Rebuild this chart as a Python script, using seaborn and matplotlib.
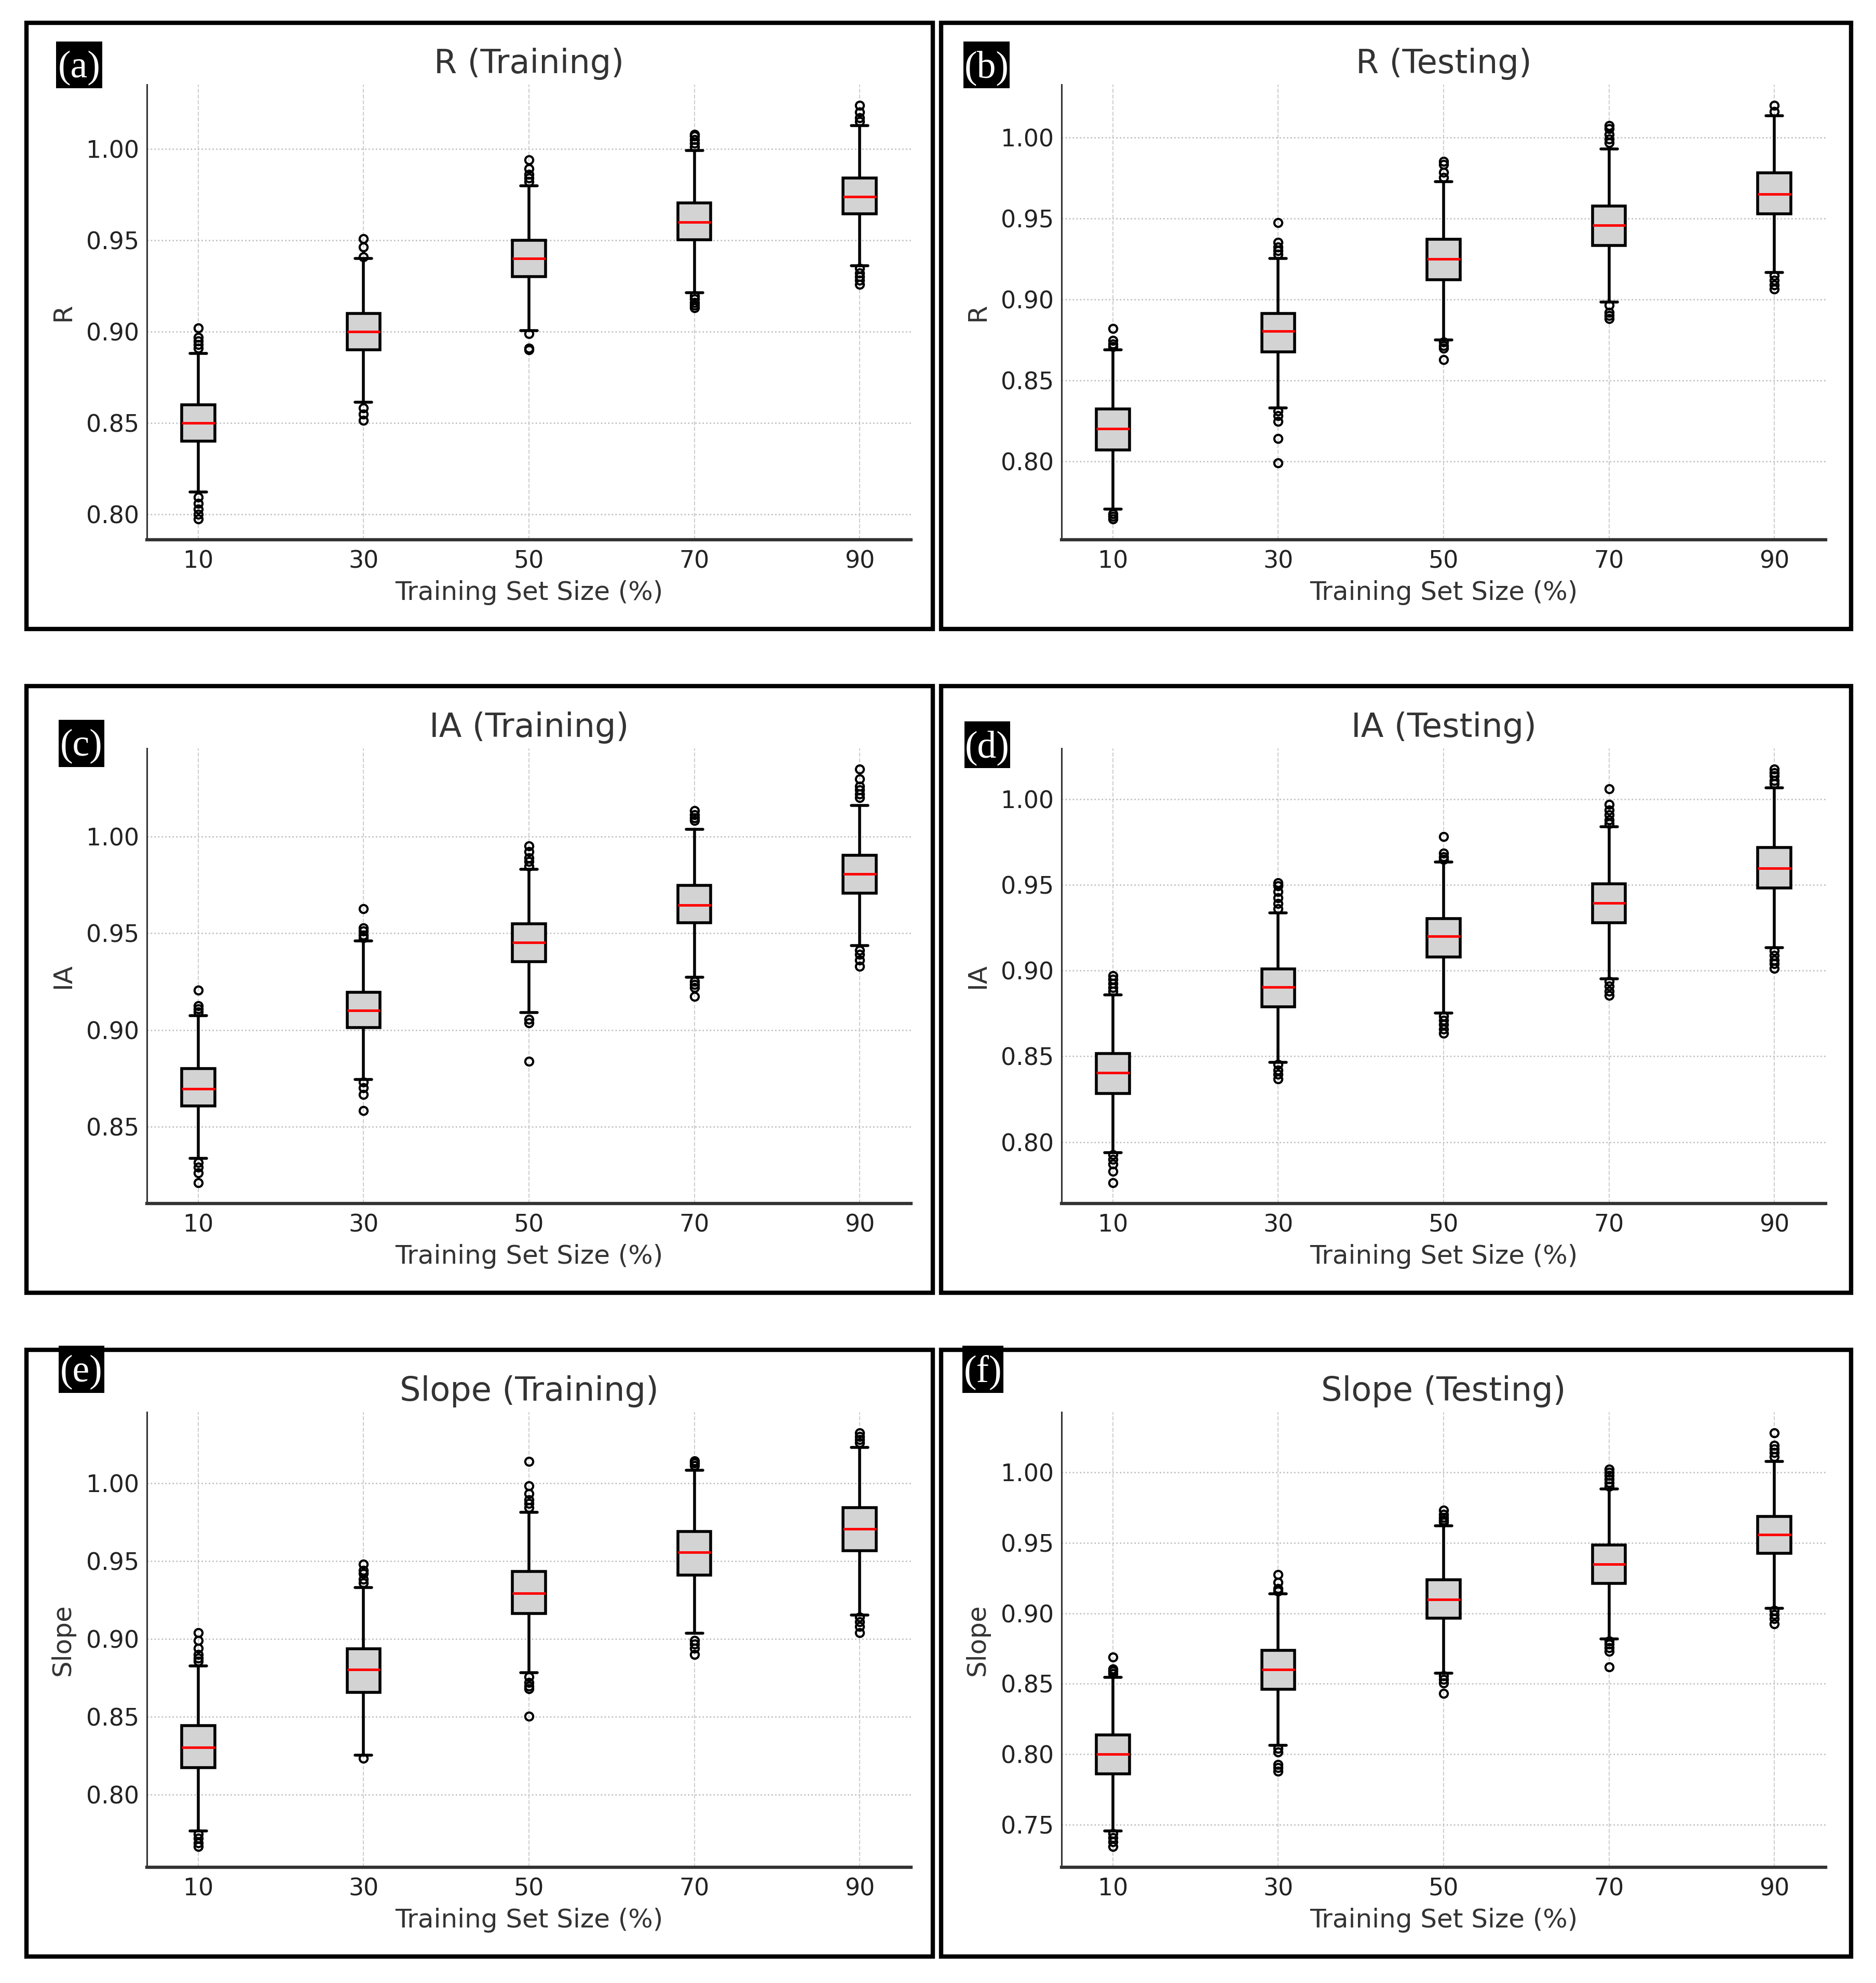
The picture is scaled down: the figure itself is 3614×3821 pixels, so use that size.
import numpy as np
import pandas as pd
import matplotlib
matplotlib.use('Agg')
import matplotlib.pyplot as plt
import seaborn as sns
from matplotlib.patches import Rectangle
from matplotlib.ticker import MultipleLocator, FormatStrFormatter


# DATA
# each box row: lower whisker, Q1, median, Q3, upper whisker

SIZES = ['10', '30', '50', '70', '90']

R_TRAIN_BOX = [
    [0.8123, 0.8400, 0.8500, 0.8600, 0.8880],
    [0.8613, 0.8900, 0.9000, 0.9100, 0.9399],
    [0.9007, 0.9300, 0.9400, 0.9500, 0.9798],
    [0.9214, 0.9503, 0.9598, 0.9704, 0.9991],
    [0.9360, 0.9644, 0.9738, 0.9841, 1.0127],
]
R_TRAIN_LOW = [[0.7975, 0.800, 0.803, 0.806, 0.8095], [0.8514, 0.8548, 0.8582],
               [0.890, 0.891, 0.8988], [0.913, 0.9145, 0.916, 0.918, 0.9197],
               [0.9258, 0.928, 0.930, 0.932, 0.9345]]
R_TRAIN_HIGH = [[0.891, 0.893, 0.895, 0.897, 0.902], [0.941, 0.9464, 0.9509],
                [0.982, 0.984, 0.986, 0.989, 0.994], [1.001, 1.003, 1.005, 1.007, 1.008],
                [1.015, 1.017, 1.020, 1.0238]]

R_TEST_BOX = [
    [0.7703, 0.8071, 0.8200, 0.8322, 0.8690],
    [0.8331, 0.8676, 0.8803, 0.8915, 0.9254],
    [0.8751, 0.9121, 0.9250, 0.9372, 0.9728],
    [0.8985, 0.9333, 0.9459, 0.9576, 0.9931],
    [0.9166, 0.9530, 0.9651, 0.9782, 1.0135],
]
R_TEST_LOW = [[0.7643, 0.766, 0.7676], [0.7990, 0.8139, 0.8245, 0.8283, 0.831],
              [0.8628, 0.8697, 0.8715, 0.8736], [0.888, 0.890, 0.892, 0.8965],
              [0.9064, 0.909, 0.912, 0.9148]]
R_TEST_HIGH = [[0.8707, 0.8725, 0.8746, 0.8819], [0.928, 0.930, 0.9325, 0.9353, 0.9476],
               [0.9755, 0.9786, 0.9834, 0.9854], [0.9969, 0.999, 1.002, 1.0056, 1.0075],
               [1.0162, 1.020]]

IA_TRAIN_BOX = [
    [0.8337, 0.8607, 0.8697, 0.8799, 0.9073],
    [0.8744, 0.9011, 0.9102, 0.9195, 0.9460],
    [0.9089, 0.9354, 0.9453, 0.9549, 0.9829],
    [0.9271, 0.9553, 0.9645, 0.9748, 1.0037],
    [0.9437, 0.9707, 0.9805, 0.9902, 1.0159],
]
IA_TRAIN_LOW = [[0.8210, 0.8262, 0.829, 0.8315], [0.8584, 0.8666, 0.870, 0.8731],
                [0.8837, 0.9035, 0.9055], [0.9173, 0.9219, 0.9235, 0.9251],
                [0.9328, 0.936, 0.939, 0.9412]]
IA_TRAIN_HIGH = [[0.9092, 0.9108, 0.9125, 0.9206], [0.9475, 0.949, 0.951, 0.9528, 0.9626],
                 [0.9845, 0.987, 0.989, 0.992, 0.9951], [1.0081, 1.0095, 1.0111, 1.0133],
                 [1.020, 1.022, 1.024, 1.026, 1.0296, 1.0348]]

IA_TEST_BOX = [
    [0.7938, 0.8282, 0.8404, 0.8516, 0.8859],
    [0.8466, 0.8788, 0.8903, 0.9011, 0.9336],
    [0.8753, 0.9080, 0.9201, 0.9305, 0.9634],
    [0.8951, 0.9280, 0.9393, 0.9507, 0.9841],
    [0.9135, 0.9483, 0.9596, 0.9717, 1.0066],
]
IA_TEST_LOW = [[0.7762, 0.7830, 0.787, 0.790, 0.7927], [0.8369, 0.8395, 0.842, 0.8452],
               [0.8634, 0.866, 0.8685, 0.871, 0.8735], [0.8854, 0.888, 0.891, 0.8936],
               [0.9013, 0.904, 0.906, 0.909, 0.9115]]
IA_TEST_HIGH = [[0.8881, 0.890, 0.8925, 0.895, 0.8969], [0.936, 0.939, 0.9425, 0.946, 0.9494, 0.9512],
                [0.9649, 0.9665, 0.9686, 0.9781], [0.9859, 0.988, 0.991, 0.9935, 0.9969, 1.0060],
                [1.0091, 1.011, 1.0135, 1.0155, 1.0176]]

SLOPE_TRAIN_BOX = [
    [0.7766, 0.8171, 0.8303, 0.8442, 0.8825],
    [0.8253, 0.8657, 0.8803, 0.8936, 0.9329],
    [0.8783, 0.9165, 0.9295, 0.9434, 0.9813],
    [0.9036, 0.9412, 0.9558, 0.9691, 1.0084],
    [0.9155, 0.9566, 0.9707, 0.9843, 1.0231],
]
SLOPE_TRAIN_LOW = [[0.7665, 0.769, 0.772, 0.7745], [0.8233],
                   [0.8502, 0.8679, 0.8695, 0.8720, 0.8755], [0.8900, 0.894, 0.8965, 0.8990],
                   [0.9040, 0.908, 0.911, 0.9141]]
SLOPE_TRAIN_HIGH = [[0.8855, 0.8875, 0.8900, 0.8940, 0.8990, 0.9040],
                    [0.9361, 0.9385, 0.9420, 0.9442, 0.9482],
                    [0.9843, 0.9870, 0.9894, 0.9934, 0.9984, 1.0141],
                    [1.0114, 1.0130, 1.0145], [1.0262, 1.028, 1.030, 1.0325]]

SLOPE_TEST_BOX = [
    [0.7458, 0.7863, 0.8000, 0.8138, 0.8546],
    [0.8064, 0.8461, 0.8602, 0.8738, 0.9137],
    [0.8577, 0.8967, 0.9099, 0.9237, 0.9621],
    [0.8818, 0.9213, 0.9347, 0.9483, 0.9882],
    [0.9034, 0.9425, 0.9556, 0.9688, 1.0078],
]
SLOPE_TEST_LOW = [[0.7346, 0.738, 0.741, 0.7440], [0.7881, 0.7905, 0.7926, 0.8015, 0.8040],
                  [0.8432, 0.8506, 0.8530, 0.8555], [0.8620, 0.8729, 0.8755, 0.878, 0.8805],
                  [0.8925, 0.8960, 0.899, 0.9019]]
SLOPE_TEST_HIGH = [[0.8573, 0.8590, 0.8606, 0.8691], [0.9158, 0.9175, 0.9219, 0.9275],
                   [0.9645, 0.966, 0.968, 0.970, 0.9732],
                   [0.9900, 0.9925, 0.995, 0.9975, 1.0000, 1.0022],
                   [1.0111, 1.0140, 1.0165, 1.0190, 1.0279]]

PANEL_LABELS = ['(a)', '(b)', '(c)', '(d)', '(e)', '(f)']
TITLES = ['R (Training)', 'R (Testing)', 'IA (Training)', 'IA (Testing)',
          'Slope (Training)', 'Slope (Testing)']
YLABELS = ['R', 'R', 'IA', 'IA', 'Slope', 'Slope']
XLABEL = 'Training Set Size (%)'

BOXES = [R_TRAIN_BOX, R_TEST_BOX, IA_TRAIN_BOX, IA_TEST_BOX, SLOPE_TRAIN_BOX, SLOPE_TEST_BOX]
LOWS = [R_TRAIN_LOW, R_TEST_LOW, IA_TRAIN_LOW, IA_TEST_LOW, SLOPE_TRAIN_LOW, SLOPE_TEST_LOW]
HIGHS = [R_TRAIN_HIGH, R_TEST_HIGH, IA_TRAIN_HIGH, IA_TEST_HIGH, SLOPE_TRAIN_HIGH, SLOPE_TEST_HIGH]


def box_sample(stats, low, high, rep=100):
    # rebuild a sample whose quartiles / whiskers / fliers match the read-off stats
    wlo, q1, med, q3, whi = stats
    return list(low) + [wlo] + [q1] * rep + [med] * rep + [q3] * rep + [whi] + list(high)


def to_frame(boxes, lows, highs):
    rows = []
    for size, st, lo, hi in zip(SIZES, boxes, lows, highs):
        for v in box_sample(st, lo, hi):
            rows.append((size, v))
    return pd.DataFrame(rows, columns=['size', 'value'])


# LAYOUT (pixel coords of the 3614x3821 canvas)

W, H = 3614, 3821
AX_LEFT = [283, 2045]
AX_TOP = [163, 1442, 2721]
AX_W, AX_H = 1472, 877
FRAME_X = [(51, 1797), (1813, 3566)]
FRAME_Y = [(44, 1212), (1322, 2491), (2601, 3770)]
LABEL_BOXES = [(108, 197, 80, 170), (1856, 1945, 80, 170),
               (113, 201, 1387, 1478), (1858, 1946, 1390, 1480),
               (113, 201, 2593, 2684), (1854, 1933, 2593, 2684)]

TEXT = '#333333'

sns.set_theme(style='white')
plt.rcParams['font.family'] = ['DejaVu Sans']

fig = plt.figure(figsize=(W / 100, H / 100), dpi=100)
fig.patch.set_facecolor('white')


def fx(px):
    return px / W


def fy(py):
    return 1 - py / H


for i in range(6):
    row, col = divmod(i, 2)

    # panel frame
    x0, x1 = FRAME_X[col]
    y0, y1 = FRAME_Y[row]
    fig.add_artist(Rectangle((fx(x0), fy(y1)), fx(x1) - fx(x0), fy(y0) - fy(y1),
                             transform=fig.transFigure, fill=False, lw=6, ec='black'))

    left = AX_LEFT[col]
    top = AX_TOP[row]
    ax = fig.add_axes([fx(left), fy(top + AX_H), AX_W / W, AX_H / H])

    df = to_frame(BOXES[i], LOWS[i], HIGHS[i])

    sns.boxplot(data=df, x='size', y='value', order=SIZES, ax=ax, width=0.2,
                color='#d3d3d3', linecolor='black', linewidth=4, whis=1.5,
                fliersize=11,
                medianprops=dict(color='red', linewidth=3.5),
                flierprops=dict(marker='o', markerfacecolor='none',
                                markeredgecolor='black', markeredgewidth=3))

    # grid after seaborn, which switches the categorical grid off
    ax.set_axisbelow(True)
    ax.yaxis.grid(True, ls=':', color='#bdbdbd', lw=1.9)
    ax.xaxis.grid(True, ls='--', color='#cfcfcf', lw=1.5)

    ax.set_xlim(-0.31, 4.31)
    ax.yaxis.set_major_locator(MultipleLocator(0.05))
    ax.yaxis.set_major_formatter(FormatStrFormatter('%.2f'))

    sns.despine(ax=ax)
    ax.spines['left'].set_linewidth(2.2)
    ax.spines['left'].set_color('#333333')
    ax.spines['bottom'].set_linewidth(4.5)
    ax.spines['bottom'].set_color('#333333')

    ax.tick_params(axis='both', direction='in', length=8, width=2,
                   color='#333333', labelcolor='#222222', labelsize=33)
    ax.tick_params(axis='x', pad=14)
    ax.tick_params(axis='y', pad=11)

    ax.set_title(TITLES[i], fontsize=46, color=TEXT, pad=16)
    ax.set_xlabel(XLABEL, fontsize=36, color=TEXT, labelpad=10)
    ax.set_ylabel(YLABELS[i], fontsize=36, color=TEXT, labelpad=15)

    # (a)-(f) tag, white serif on black
    bx0, bx1, by0, by1 = LABEL_BOXES[i]
    fig.add_artist(Rectangle((fx(bx0), fy(by1)), fx(bx1) - fx(bx0), fy(by0) - fy(by1),
                             transform=fig.transFigure, fc='black', ec='none'))
    fig.text(fx((bx0 + bx1) / 2), fy((by0 + by1) / 2 + 6), PANEL_LABELS[i],
             color='white', fontsize=53, family=['Liberation Serif', 'DejaVu Serif'],
             ha='center', va='center')

fig.savefig('out.png', dpi=100, facecolor='white')
